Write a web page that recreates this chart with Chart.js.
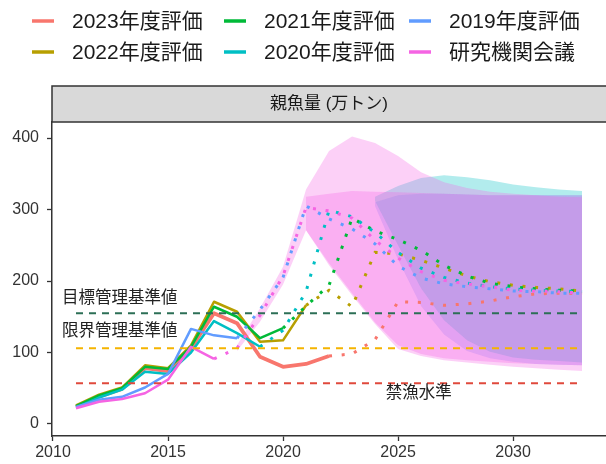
<!DOCTYPE html>
<html>
<head>
<meta charset="utf-8">
<script src="https://cdn.jsdelivr.net/npm/chart.js@4.4.1/dist/chart.umd.min.js"></script>
<style>
  html, body { margin: 0; padding: 0; background: #fff; }
  #wrap { width: 606px; height: 464px; position: relative; }
</style>
</head>
<body>
<div id="wrap"><canvas id="c"></canvas></div>
<script>
// Jahre 2011–2033 (x-Achse)
const YEARS = [2011, 2012, 2013, 2014, 2015, 2016, 2017, 2018, 2019, 2020, 2021, 2022,
               2023, 2024, 2025, 2026, 2027, 2028, 2029, 2030, 2031, 2032, 2033];
const X_TICKS = [2010, 2015, 2020, 2025, 2030];
const Y_TICKS = [0, 100, 200, 300, 400];

const _ = null;
// Beobachtet (durchgezogen)
const OBS_2023  = [24, 38, 49, 78, 74, 106, 155, 141, 94, 80, 84, 95, _, _, _, _, _, _, _, _, _, _, _];
const OBS_2022  = [26, 41, 51, 82, 78, 110, 171, 157, 115, 117, 166, _, _, _, _, _, _, _, _, _, _, _, _];
const OBS_2021  = [25, 40, 50, 80, 77, 108, 164, 150, 120, 134, _, _, _, _, _, _, _, _, _, _, _, _, _];
const OBS_2020  = [23, 37, 48, 73, 70, 100, 144, 127, 108, _, _, _, _, _, _, _, _, _, _, _, _, _, _];
const OBS_2019  = [24, 34, 38, 51, 70, 133, 124, 120, _, _, _, _, _, _, _, _, _, _, _, _, _, _, _];
const OBS_KAIGI = [22, 31, 35, 43, 62, 108, 91, _, _, _, _, _, _, _, _, _, _, _, _, _, _, _, _];

// Projektion (gepunktet)
const PROJ_2023  = [_, _, _, _, _, _, _, _, _, _, _, 95, 98, 118, 171, 170, 166, 168, 172, 178, 182, 183, 183];
const PROJ_2022  = [_, _, _, _, _, _, _, _, _, _, 166, 187, 164, 240, 238, 229, 218, 207, 199, 194, 191, 189, 186];
const PROJ_2021  = [_, _, _, _, _, _, _, _, _, 134, 165, 194, 288, 270, 258, 243, 222, 207, 197, 192, 189, 187, 186];
const PROJ_2020  = [_, _, _, _, _, _, _, _, 108, 131, 185, 299, 290, 268, 240, 218, 205, 197, 192, 189, 187, 186, 185];
const PROJ_2019  = [_, _, _, _, _, _, _, 120, 160, 205, 305, 287, 273, 252, 221, 204, 196, 192, 189, 186, 185, 183, 183];
const PROJ_KAIGI = [_, _, _, _, _, _, 91, 106, 152, 207, 303, 298, 288, 257, 232, 213, 201, 196, 192, 187, 186, 185, 183];

// Unsicherheitsbänder
const BAND_KAIGI_LO = [_, _, _, _, _, _, _, 102, 143, 195, 271, 222, 180, 140, 105, 95, 89, 86, 83, 80, 78, 76, 74];
const BAND_KAIGI_HI = [_, _, _, _, _, _, _, 110, 162, 220, 328, 382, 402, 393, 375, 352, 338, 330, 325, 322, 320, 318, 317];
const BAND_INNER_LO = [_, _, _, _, _, _, _, _, _, _, 271, 225, 183, 142, 110, 98, 92, 89, 87, 85, 84, 83, 82];
const BAND_INNER_HI = [_, _, _, _, _, _, _, _, _, _, 318, 322, 326, 325, 324, 323, 322, 321, 320, 320, 320, 320, 320];
const BAND_2019_LO  = [_, _, _, _, _, _, _, _, _, _, _, _, _, 305, 230, 165, 125, 102, 92, 87, 84, 83, 82];
const BAND_2019_HI  = [_, _, _, _, _, _, _, _, _, _, _, _, _, 310, 320, 322, 322, 321, 320, 320, 320, 320, 320];
const BAND_2020_LO  = [_, _, _, _, _, _, _, _, _, _, _, _, _, 312, 250, 190, 145, 117, 101, 93, 90, 88, 86];
const BAND_2020_HI  = [_, _, _, _, _, _, _, _, _, _, _, _, _, 318, 333, 344, 348, 345, 341, 335, 331, 328, 326];

// Referenzpunkte
const REF_YEARS = [2011, 2033];
const REF_TARGET = 155;   // 目標管理基準値
const REF_LIMIT = 106;    // 限界管理基準値
const REF_BAN = 57;       // 禁漁水準

const COL = {
  y2023: "#F8766D", y2022: "#B79F00", y2021: "#00BA38",
  y2020: "#00BFC4", y2019: "#619CFF", kaigi: "#F564E3",
};

const LEGEND = [
  ["2023年度評価", COL.y2023], ["2021年度評価", COL.y2021], ["2019年度評価", COL.y2019],
  ["2022年度評価", COL.y2022], ["2020年度評価", COL.y2020], ["研究機関会議", COL.kaigi],
];

function pts(arr) {
  return YEARS.map((x, i) => ({ x: x, y: arr[i] })).filter((p) => p.y !== null);
}

function alpha(hex, a) {
  const n = parseInt(hex.slice(1), 16);
  return `rgba(${(n >> 16) & 255},${(n >> 8) & 255},${n & 255},${a})`;
}

const datasets = [];

// Bänder: unterer Rand (unsichtbar) + oberer Rand mit Füllung bis zum unteren
function addBand(lo, hi, color, a) {
  const idx = datasets.length;
  datasets.push({ data: pts(lo), borderWidth: 0, pointRadius: 0, fill: false });
  datasets.push({ data: pts(hi), borderWidth: 0, pointRadius: 0, fill: idx,
                  backgroundColor: alpha(color, a) });
}
addBand(BAND_KAIGI_LO, BAND_KAIGI_HI, COL.kaigi, 0.3);
addBand(BAND_INNER_LO, BAND_INNER_HI, COL.kaigi, 0.3);
addBand(BAND_2020_LO, BAND_2020_HI, COL.y2020, 0.3);
addBand(BAND_2019_LO, BAND_2019_HI, COL.y2019, 0.3);

function refLine(v, color) {
  datasets.push({ data: REF_YEARS.map((x) => ({ x: x, y: v })), borderColor: color,
                  borderWidth: 2, borderDash: [7, 6], pointRadius: 0, fill: false });
}
refLine(REF_TARGET, "#2c6f56");
refLine(REF_LIMIT, "#f5b400");
refLine(REF_BAN, "#e0493c");

function series(obs, proj, color, w) {
  datasets.push({ data: pts(proj), borderColor: color, borderWidth: 3, borderDash: [3, 9.7],
                  pointRadius: 0, fill: false, tension: 0 });
  datasets.push({ data: pts(obs), borderColor: color, borderWidth: w, pointRadius: 0,
                  fill: false, tension: 0, borderJoinStyle: "round" });
}
series(OBS_KAIGI, PROJ_KAIGI, COL.kaigi, 2.5);
series(OBS_2019, PROJ_2019, COL.y2019, 2.5);
series(OBS_2020, PROJ_2020, COL.y2020, 2.5);
series(OBS_2021, PROJ_2021, COL.y2021, 2.5);
series(OBS_2022, PROJ_2022, COL.y2022, 2.5);
series(OBS_2023, PROJ_2023, COL.y2023, 3.8);

const FONT = "'Liberation Sans', 'Noto Sans CJK JP', sans-serif";
Chart.defaults.font.family = FONT;
Chart.defaults.animation = false;

// Facetten-Streifen oben + eigene Legende + Beschriftungen
const decor = {
  id: "decor",
  afterDraw(chart) {
    const { ctx, chartArea: a, scales } = chart;
    ctx.save();
    // Streifen
    ctx.fillStyle = "#d9d9d9";
    ctx.fillRect(a.left, 86, a.right - a.left + 2, a.top - 86);
    ctx.strokeStyle = "#333";
    ctx.lineWidth = 1.5;
    ctx.strokeRect(a.left, 86, a.right - a.left + 4, a.top - 86);
    ctx.fillStyle = "#1a1a1a";
    ctx.font = `17px ${FONT}`;
    ctx.textAlign = "center";
    ctx.textBaseline = "middle";
    ctx.fillText("親魚量 (万トン)", (a.left + a.right) / 2, 104);

    // Legende (3 Spalten, 2 Zeilen)
    const colX = [32, 224, 409];
    const rowY = [21, 52];
    ctx.font = `21px ${FONT}`;
    ctx.textAlign = "left";
    LEGEND.forEach(([label, color], i) => {
      const x = colX[i % 3], y = rowY[Math.floor(i / 3)];
      ctx.strokeStyle = color;
      ctx.lineWidth = 3.5;
      ctx.beginPath();
      ctx.moveTo(x, y);
      ctx.lineTo(x + 22, y);
      ctx.stroke();
      ctx.fillStyle = "#1a1a1a";
      ctx.fillText(label, x + 40, y + 1);
    });

    // Referenzpunkt-Beschriftungen
    ctx.font = `16.5px ${FONT}`;
    ctx.fillStyle = "#222";
    ctx.textAlign = "left";
    ctx.fillText("目標管理基準値", scales.x.getPixelForValue(2010.39), scales.y.getPixelForValue(176));
    ctx.fillText("限界管理基準値", scales.x.getPixelForValue(2010.39), scales.y.getPixelForValue(129));
    ctx.textAlign = "center";
    ctx.fillText("禁漁水準", scales.x.getPixelForValue(2025.9), scales.y.getPixelForValue(43));
    ctx.restore();
  },
};

new Chart(document.getElementById("c"), {
  type: "line",
  data: { datasets },
  plugins: [decor],
  options: {
    responsive: true,
    maintainAspectRatio: false,
    devicePixelRatio: 1,
    layout: { padding: { top: 122, left: 0, right: 0, bottom: 0 } },
    plugins: {
      legend: { display: false },
      tooltip: { enabled: false },
      filler: { drawTime: "beforeDatasetsDraw" },
    },
    scales: {
      x: {
        type: "linear",
        min: 2009.957,
        max: 2034.04,
        afterBuildTicks: (s) => { s.ticks = X_TICKS.map((v) => ({ value: v })); },
        afterFit: (s) => { s.height = 28; },
        grid: { drawOnChartArea: false, tickLength: 5, color: "#333", tickWidth: 1.3 },
        border: { display: true, color: "#333", width: 1.5 },
        ticks: { color: "#333", font: { size: 16 }, padding: 2, maxRotation: 0,
                 autoSkip: false, callback: (v) => String(v) },
      },
      y: {
        min: -16.8,
        max: 422.4,
        afterBuildTicks: (s) => { s.ticks = Y_TICKS.map((v) => ({ value: v })); },
        afterFit: (s) => { s.width = 52; },
        grid: { drawOnChartArea: false, tickLength: 5, color: "#333", tickWidth: 1.3 },
        border: { display: true, color: "#333", width: 1.5 },
        ticks: { color: "#333", font: { size: 16 }, padding: 8, callback: (v) => String(v) },
      },
    },
  },
});
</script>
</body>
</html>
